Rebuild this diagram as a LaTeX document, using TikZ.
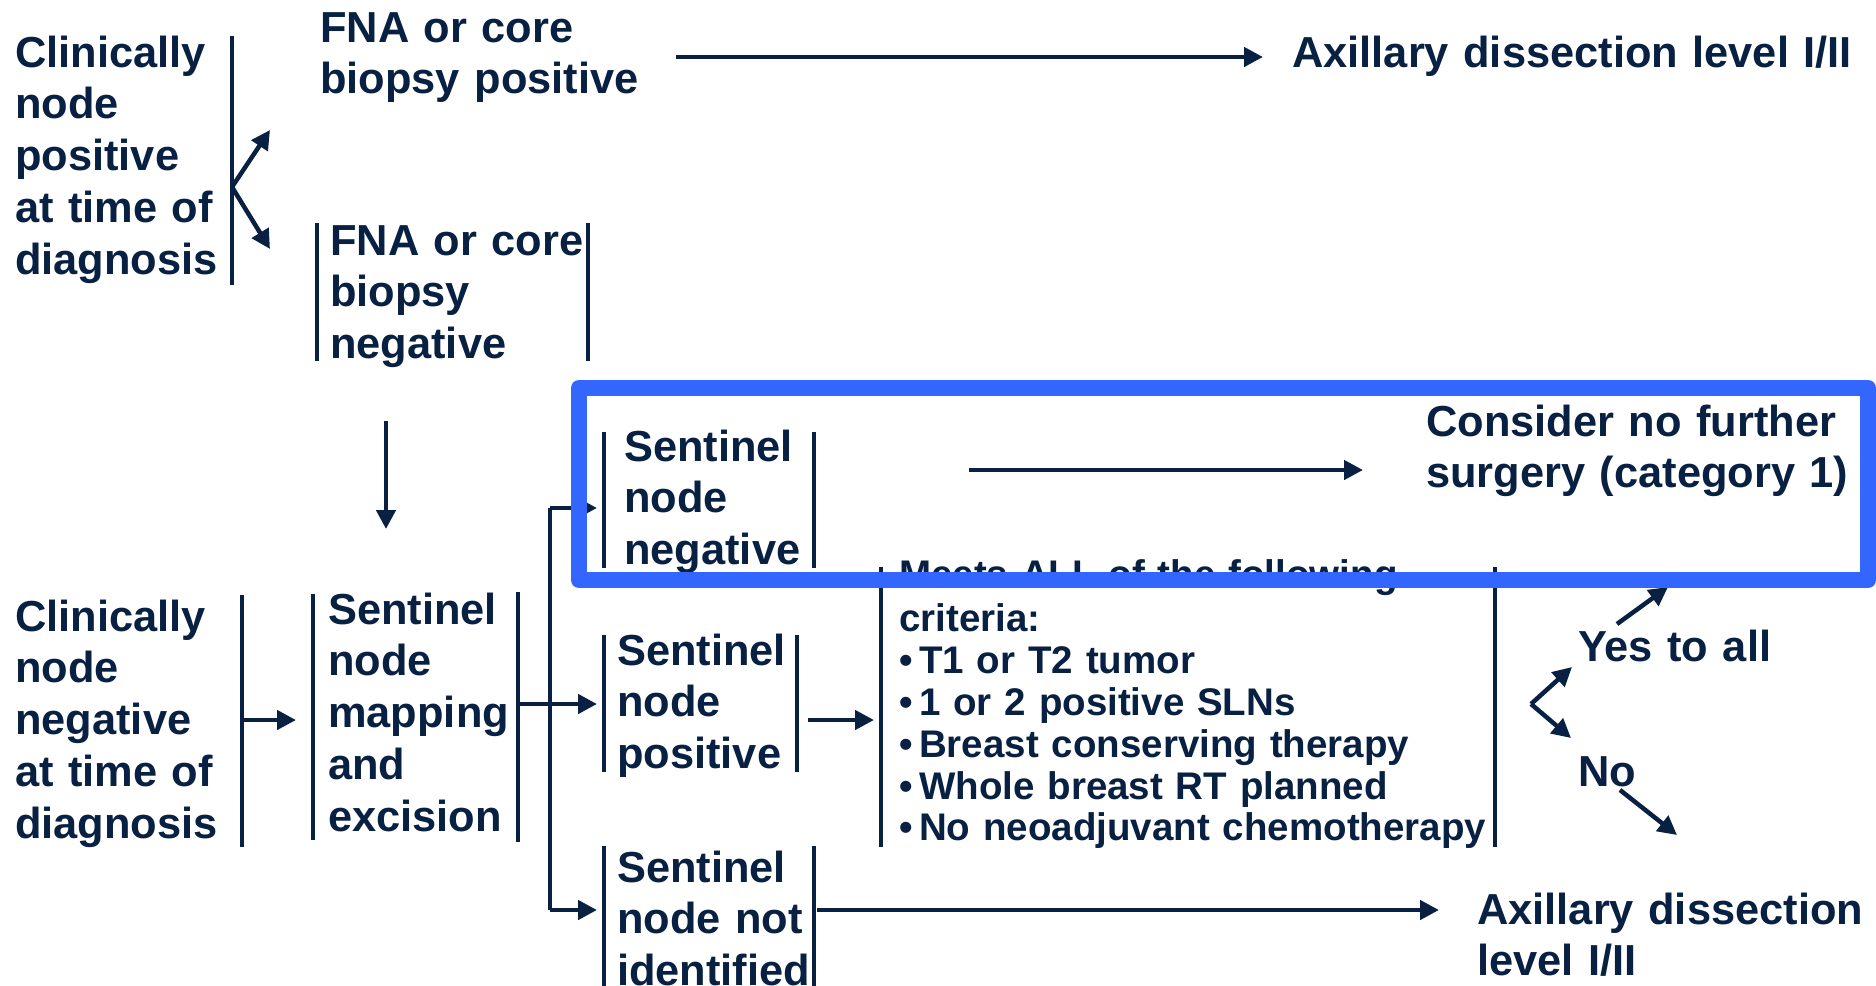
\documentclass[tikz,border=0pt]{standalone}
\usepackage{fontspec}
\setmainfont{Liberation Sans}
\usetikzlibrary{arrows.meta}
\definecolor{navy}{RGB}{8,32,66}
\definecolor{hlblue}{RGB}{51,102,255}
\newcommand{\bul}{\makebox[20pt][l]{\textbullet}}
\begin{document}
\begin{tikzpicture}[x=1pt,y=-1pt,
  big/.style={font=\fontsize{43.4}{51.8}\selectfont\bfseries,text=navy,inner sep=0pt,
    anchor=base west,text width=#1,align=left},
  big/.default=600pt,
  crit/.style={font=\fontsize{38.5}{41.8}\selectfont\bfseries,text=navy,inner sep=0pt,
    anchor=base west,text width=640pt,align=left},
  bar/.style={draw=navy,line width=3.5pt},
  arr/.style={draw=navy,line width=4.5pt,-{Triangle[length=19pt,width=19pt]}},
  ln/.style={draw=navy,line width=4pt},
  hl/.style={draw=hlblue,line width=16pt,line join=round}]
\useasboundingbox (0,0) rectangle (1876,985);

% --- texts ---
\node[big] (cpos) at (15,67) {Clinically\\node\\positive\\at time of\\diagnosis};
\node[big] (fnapos) at (320,42) {FNA or core\\biopsy positive};
\node[big] (ax1) at (1292,67) {Axillary dissection level I/II};
\node[big] (fnaneg) at (330,255) {FNA or core\\biopsy\\negative};
\node[big] (sneg) at (624,461) {Sentinel\\node\\negative};
\node[big] (nofurther) at (1426,436) {Consider no further\\surgery (category 1)};
\node[big] (cneg) at (15,631) {Clinically\\node\\negative\\at time of\\diagnosis};
\node[big] (map) at (328,624) {Sentinel\\node\\mapping\\and\\excision};
\node[big] (spos) at (617,665) {Sentinel\\node\\positive};
\node[crit] (crit) at (899,587) {Meets ALL of the following\\[3pt]
  criteria:\\
  \bul T1 or T2 tumor\\
  \bul 1 or 2 positive SLNs\\
  \bul Breast conserving therapy\\
  \bul Whole breast RT planned\\
  \bul No neoadjuvant chemotherapy};
\node[big] (yes) at (1578,661) {Yes to all};
\node[big] (no) at (1578,786) {No};
\node[big] (snid) at (617,882) {Sentinel\\node not\\identified};
\node[big] (ax2) at (1477,924) {Axillary dissection\\level I/II};

% --- bars ---
\draw[bar] (232,36) -- (232,285);
\draw[bar] (317,223) -- (317,361);
\draw[bar] (588,223) -- (588,361);
\draw[bar] (604,432) -- (604,568);
\draw[bar] (814,432) -- (814,568);
\draw[bar] (242,595) -- (242,847);
\draw[bar] (313,594) -- (313,840);
\draw[bar] (518,592) -- (518,842);
\draw[bar] (604,635) -- (604,772);
\draw[bar] (797,635) -- (797,772);
\draw[bar] (881,567) -- (881,847);
\draw[bar] (1495,567) -- (1495,847);
\draw[bar] (604,846) -- (604,995);
\draw[bar] (814,846) -- (814,995);

% --- connector points ---
\coordinate (forkA) at (232,187);
\coordinate (forkAup) at (270,130);
\coordinate (forkAdn) at (270,249);
\coordinate (fnaposR) at (676,57);
\coordinate (ax1L) at (1263,57);
\coordinate (fnanegB) at (386,421);
\coordinate (mapT) at (386,529);
\coordinate (snegR) at (969,470);
\coordinate (nofurtherL) at (1363,470);
\coordinate (cnegR) at (242,720);
\coordinate (mapL) at (296,720);
\coordinate (mapR) at (518,704);
\coordinate (trunkT) at (550,508);
\coordinate (trunkB) at (550,910);
\coordinate (snegL) at (597,508);
\coordinate (sposL) at (597,704);
\coordinate (snidL) at (597,910);
\coordinate (sposR) at (808,720);
\coordinate (critL) at (874,720);
\coordinate (forkK) at (1531,704);
\coordinate (forkKup) at (1572,667);
\coordinate (forkKdn) at (1571,738);
\coordinate (yesS) at (1617,624);
\coordinate (yesE) at (1668,587);
\coordinate (noS) at (1620,790);
\coordinate (noE) at (1677,835);
\coordinate (snidR) at (817,910);
\coordinate (ax2L) at (1439,910);

% --- connectors ---
\draw[arr] (forkA) -- (forkAup);
\draw[arr] (forkA) -- (forkAdn);
\draw[arr] (fnaposR) -- (ax1L);
\draw[arr] (fnanegB) -- (mapT);
\draw[arr] (snegR) -- (nofurtherL);
\draw[arr] (cnegR) -- (mapL);
\draw[arr] (mapR) -- (sposL);
\draw[ln] (trunkT) -- (trunkB);
\draw[arr] (trunkT) -- (snegL);
\draw[arr] (trunkB) -- (snidL);
\draw[arr] (sposR) -- (critL);
\draw[arr] (forkK) -- (forkKup);
\draw[arr] (forkK) -- (forkKdn);
\draw[arr] (yesS) -- (yesE);
\draw[arr] (noS) -- (noE);
\draw[arr] (snidR) -- (ax2L);

% --- highlight frame ---
\draw[hl] (579,388) rectangle (1868,580);
\end{tikzpicture}
\end{document}
